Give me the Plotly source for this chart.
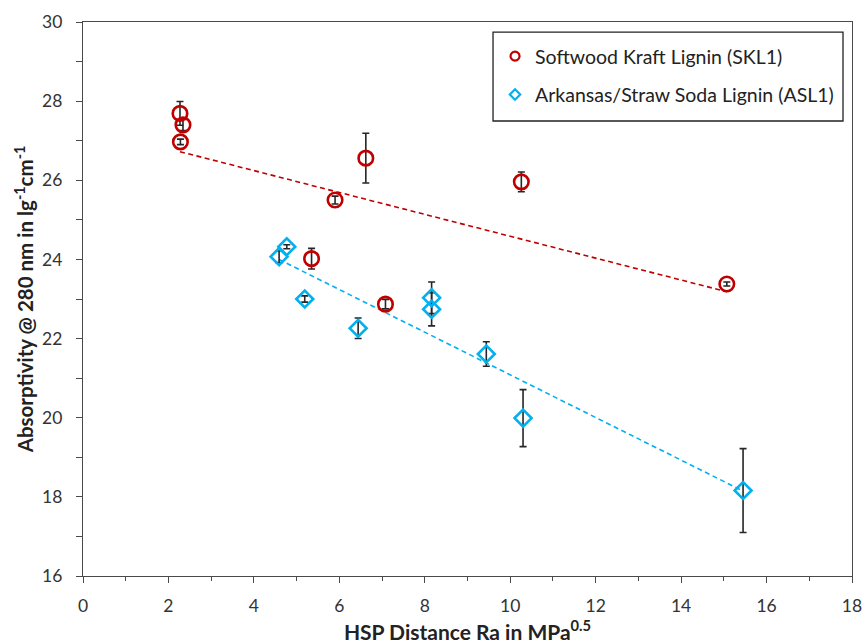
import numpy as np
import plotly.graph_objects as go

# SKL1 (Softwood Kraft Lignin)
skl_x = [2.27, 2.34, 2.28, 6.62, 5.90, 5.35, 7.08, 10.26, 15.07]
skl_y = [27.69, 27.40, 26.97, 26.56, 25.50, 24.02, 22.87, 25.96, 23.38]
skl_err = [0.30, 0.14, 0.07, 0.63, 0.10, 0.26, 0.12, 0.25, 0.05]

# ASL1 (Arkansas/Straw Soda Lignin)
asl_x = [4.59, 4.77, 5.19, 6.44, 8.16, 8.16, 9.44, 10.30, 15.45]
asl_y = [24.07, 24.32, 23.00, 22.26, 23.03, 22.74, 21.61, 19.99, 18.16]
asl_err = [0.15, 0.05, 0.08, 0.26, 0.40, 0.42, 0.31, 0.72, 1.06]

names = ["Softwood Kraft Lignin (SKL1)", "Arkansas/Straw Soda Lignin (ASL1)"]
RED = "#C00000"
BLUE = "#00B0F0"
FONT = "Lato"

fig = go.Figure()

def trend(xs, ys):
    k, b = np.polyfit(xs, ys, 1)
    xx = np.array([min(xs), max(xs)])
    return xx, k * xx + b

for xs, ys, col in [(skl_x, skl_y, RED), (asl_x, asl_y, BLUE)]:
    tx, ty = trend(xs, ys)
    fig.add_trace(go.Scatter(x=tx, y=ty, mode="lines", showlegend=False,
                             line=dict(color=col, width=1.6, dash="5px,3.5px"),
                             hoverinfo="skip"))

fig.add_trace(go.Scatter(
    x=skl_x, y=skl_y, mode="markers", showlegend=False,
    marker=dict(symbol="circle-open", size=14.5, color=RED, line=dict(width=2.6, color=RED)),
    error_y=dict(type="data", array=skl_err, visible=True, color="#262626", thickness=1.6, width=3.5),
))
fig.add_trace(go.Scatter(
    x=asl_x, y=asl_y, mode="markers", showlegend=False,
    marker=dict(symbol="diamond-open", size=13, color=BLUE, line=dict(width=2.6, color=BLUE)),
    error_y=dict(type="data", array=asl_err, visible=True, color="#262626", thickness=1.6, width=3.5),
))

# legend entries
fig.add_trace(go.Scatter(x=[None], y=[None], mode="markers", name=names[0], legendgroup="a",
                         marker=dict(symbol="circle-open", size=9, color=RED, line=dict(width=2.2, color=RED))))
fig.add_trace(go.Scatter(x=[None], y=[None], mode="markers", name=names[1], legendgroup="b",
                         marker=dict(symbol="diamond-open", size=8, color=BLUE, line=dict(width=2.2, color=BLUE))))

axis_common = dict(
    showgrid=False, zeroline=False, showline=True, linecolor="#4a4a4a", linewidth=1.4,
    mirror=True, ticks="outside", tickcolor="#4a4a4a", tickwidth=1.3, ticklen=6,
    tickfont=dict(family=FONT, size=17.5, color="#333333"), automargin=False,
)

fig.update_layout(
    width=864, height=644,
    margin=dict(l=83, r=12, t=22, b=68),
    paper_bgcolor="white", plot_bgcolor="white",
    font=dict(family=FONT, color="#222222"),
    xaxis=dict(range=[0, 18], tickvals=list(range(0, 19, 2)), **axis_common,
               minor=dict(ticks="outside", tickvals=list(range(1, 18, 2)), ticklen=4,
                          tickcolor="#4a4a4a", tickwidth=1.3),
               ticklabelstandoff=8,
               title=dict(text="<b>HSP Distance Ra in MPa<sup>0.5</sup></b>",
                          font=dict(family=FONT, size=21, color="#222222"), standoff=2)),
    yaxis=dict(range=[16, 30], tickvals=list(range(16, 31, 2)), **axis_common,
               minor=dict(ticks="outside", tickvals=list(range(17, 30, 2)), ticklen=6,
                          tickcolor="#4a4a4a", tickwidth=1.3),
               ticklabelstandoff=10,
               title=dict(text="<b>Absorptivity @ 280 nm in lg<sup>-1</sup>cm<sup>-1</sup></b>",
                          font=dict(family=FONT, size=20.5, color="#222222"), standoff=2)),
    legend=dict(x=0.5358, y=0.973, xanchor="left", yanchor="top",
                borderwidth=0, bgcolor="rgba(0,0,0,0)",
                font=dict(family=FONT, size=19.5, color="#222222"),
                tracegroupgap=10, traceorder="grouped"),
    shapes=[dict(type="rect", xref="paper", yref="paper",
                 x0=0.5332, x1=0.9883, y0=0.8213, y1=0.9819,
                 line=dict(color="#222222", width=1.3), fillcolor="white", layer="below")],
)

fig.write_html("out.html")
